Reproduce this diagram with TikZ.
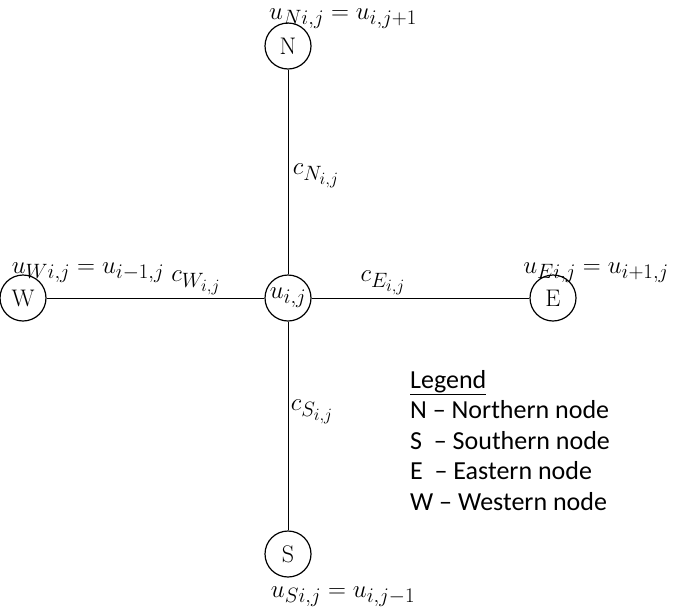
\documentclass[tikz,border=0pt]{standalone}
\usepackage{fontspec}
\newfontfamily\legendfont{Carlito}
\DeclareMathSizes{27}{27}{20}{16}
\begin{document}
\begin{tikzpicture}[x=1pt,y=-1pt,
  grid/.style={circle,draw,line width=1.2pt,minimum size=46pt,inner sep=0pt,font=\fontsize{24}{28}\selectfont},
  lbl/.style={inner sep=0pt,font=\fontsize{27}{30}\selectfont},
  link/.style={line width=1pt}]
\useasboundingbox (0,0) rectangle (685,611);
\node[grid] (c) at (288,298) {\fontsize{27}{30}\selectfont$u_{i,j}$};
\node[grid] (n) at (288,46) {N};
\node[grid] (w) at (23,298) {W};
\node[grid] (e) at (553,298) {E};
\node[grid] (s) at (288,554) {S};
\draw[link] (c) -- (n);
\draw[link] (c) -- (w);
\draw[link] (c) -- (e);
\draw[link] (c) -- (s);
\node[lbl,anchor=base] (ln) at (343,19) {$u_{Ni,j}=u_{i,j+1}$};
\node[lbl,anchor=base] (lw) at (88,273) {$u_{Wi,j}=u_{i-1,j}$};
\node[lbl,anchor=base] (le) at (596,273) {$u_{Ei,j}=u_{i+1,j}$};
\node[lbl,anchor=base] (ls) at (343,597) {$u_{Si,j}=u_{i,j-1}$};
\node[lbl] (cn) at (316,176) {$c_{N_{i,j}}$};
\node[lbl] (cw) at (196,283) {$c_{W_{i,j}}$};
\node[lbl] (ce) at (383,283) {$c_{E_{i,j}}$};
\node[lbl] (cs) at (312,412) {$c_{S_{i,j}}$};
\node[anchor=north west,inner sep=0pt,align=left,font=\legendfont\fontsize{26}{30.5}\selectfont] (legend) at (410,370)
 {\underline{Legend}\\N – Northern node\\S\ \ – Southern node\\E\ \ – Eastern node\\W – Western node};
\end{tikzpicture}
\end{document}
